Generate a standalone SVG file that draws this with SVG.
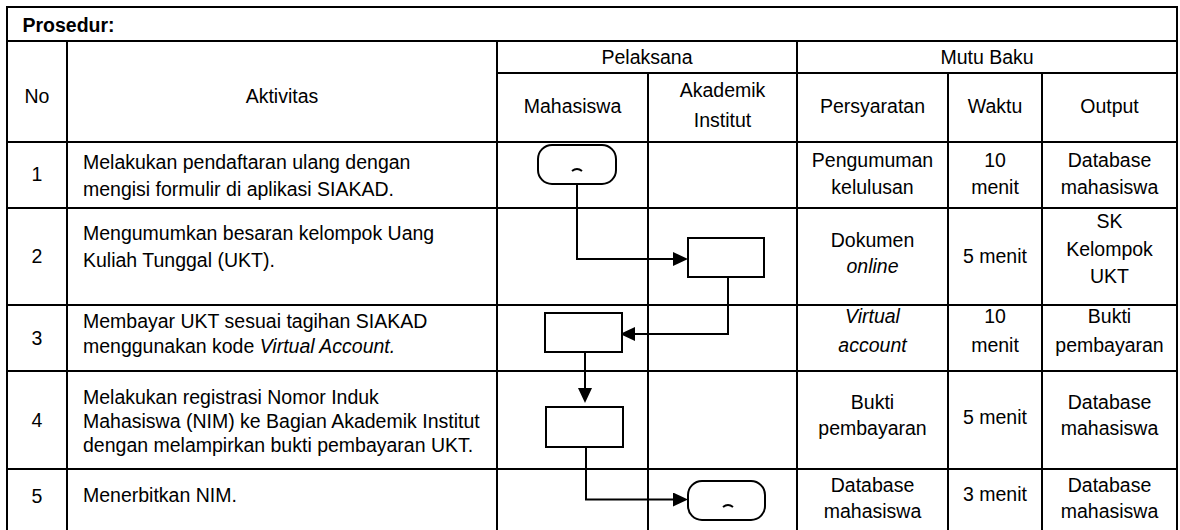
<svg xmlns="http://www.w3.org/2000/svg" width="1180" height="530" viewBox="0 0 1180 530">
  <style>
    text { font-family: "Liberation Sans", Arial, sans-serif; font-size: 19.5px; fill: #000; }
    .c { text-anchor: middle; }
    .b { font-weight: bold; }
    .i { font-style: italic; }
    .grid line { stroke: #000; stroke-width: 2; }
    .shape { fill: #fff; stroke: #000; stroke-width: 2; }
    .mark { fill: none; stroke: #000; stroke-width: 2; }
    .flow { fill: none; stroke: #000; stroke-width: 2; marker-end: url(#arrow); }
  </style>
  <defs>
    <marker id="arrow" markerUnits="userSpaceOnUse" viewBox="0 0 15 14" markerWidth="15" markerHeight="14" refX="0" refY="7" orient="auto">
      <path d="M0,0 L15,7 L0,14 z" fill="#000"/>
    </marker>
  </defs>
  <rect x="0" y="0" width="1180" height="530" fill="#fff"/>

  <!-- table grid -->
  <g class="grid">
    <line x1="6" y1="7" x2="1178" y2="7"/>
    <line x1="7" y1="7" x2="7" y2="530"/>
    <line x1="1177" y1="7" x2="1177" y2="530"/>
    <line x1="7" y1="41" x2="1177" y2="41"/>
    <line x1="497" y1="73" x2="1177" y2="73"/>
    <line x1="7" y1="142" x2="1177" y2="142"/>
    <line x1="7" y1="208" x2="1177" y2="208"/>
    <line x1="7" y1="305" x2="1177" y2="305"/>
    <line x1="7" y1="371" x2="1177" y2="371"/>
    <line x1="7" y1="469" x2="1177" y2="469"/>
    <line x1="67" y1="41" x2="67" y2="530"/>
    <line x1="497" y1="41" x2="497" y2="530"/>
    <line x1="797" y1="41" x2="797" y2="530"/>
    <line x1="648" y1="73" x2="648" y2="530"/>
    <line x1="948" y1="73" x2="948" y2="530"/>
    <line x1="1042" y1="73" x2="1042" y2="530"/>
  </g>

  <!-- headers -->
  <g id="header">
    <text class="b" x="22.5" y="31.5">Prosedur:</text>
    <text class="c" x="37" y="103">No</text>
    <text class="c" x="282" y="103">Aktivitas</text>
    <text class="c" x="647" y="64">Pelaksana</text>
    <text class="c" x="987" y="64">Mutu Baku</text>
    <text class="c" x="572.5" y="113">Mahasiswa</text>
    <text class="c" x="722.5" y="97">Akademik</text>
    <text class="c" x="722.5" y="127">Institut</text>
    <text class="c" x="872.5" y="113">Persyaratan</text>
    <text class="c" x="995" y="113">Waktu</text>
    <text class="c" x="1109.5" y="113">Output</text>
  </g>

  <!-- row 1 -->
  <g id="row1">
    <text class="c" x="37" y="181">1</text>
    <text x="83" y="169">Melakukan pendaftaran ulang dengan</text>
    <text x="83" y="196">mengisi formulir di aplikasi SIAKAD.</text>
    <text class="c" x="872.5" y="167">Pengumuman</text>
    <text class="c" x="872.5" y="194">kelulusan</text>
    <text class="c" x="995" y="167">10</text>
    <text class="c" x="995" y="194">menit</text>
    <text class="c" x="1109.5" y="167">Database</text>
    <text class="c" x="1109.5" y="194">mahasiswa</text>
  </g>

  <!-- row 2 -->
  <g id="row2">
    <text class="c" x="37" y="263">2</text>
    <text x="83" y="240">Mengumumkan besaran kelompok Uang</text>
    <text x="83" y="267">Kuliah Tunggal (UKT).</text>
    <text class="c" x="872.5" y="247">Dokumen</text>
    <text class="c i" x="872.5" y="273">online</text>
    <text class="c" x="995" y="263">5 menit</text>
    <text class="c" x="1109.5" y="228">SK</text>
    <text class="c" x="1109.5" y="255.5">Kelompok</text>
    <text class="c" x="1109.5" y="283">UKT</text>
  </g>

  <!-- row 3 -->
  <g id="row3">
    <text class="c" x="37" y="345">3</text>
    <text x="83" y="328">Membayar UKT sesuai tagihan SIAKAD</text>
    <text x="83" y="353">menggunakan kode <tspan class="i">Virtual Account.</tspan></text>
    <text class="c i" x="872.5" y="323">Virtual</text>
    <text class="c i" x="872.5" y="352">account</text>
    <text class="c" x="995" y="323">10</text>
    <text class="c" x="995" y="352">menit</text>
    <text class="c" x="1109.5" y="323">Bukti</text>
    <text class="c" x="1109.5" y="352">pembayaran</text>
  </g>

  <!-- row 4 -->
  <g id="row4">
    <text class="c" x="37" y="427">4</text>
    <text x="83" y="404">Melakukan registrasi Nomor Induk</text>
    <text x="83" y="428">Mahasiswa (NIM) ke Bagian Akademik Institut</text>
    <text x="83" y="452">dengan melampirkan bukti pembayaran UKT.</text>
    <text class="c" x="872.5" y="409">Bukti</text>
    <text class="c" x="872.5" y="435">pembayaran</text>
    <text class="c" x="995" y="424">5 menit</text>
    <text class="c" x="1109.5" y="409">Database</text>
    <text class="c" x="1109.5" y="435">mahasiswa</text>
  </g>

  <!-- row 5 -->
  <g id="row5">
    <text class="c" x="37" y="503">5</text>
    <text x="83" y="502">Menerbitkan NIM.</text>
    <text class="c" x="872.5" y="492">Database</text>
    <text class="c" x="872.5" y="518">mahasiswa</text>
    <text class="c" x="995" y="501">3 menit</text>
    <text class="c" x="1109.5" y="492">Database</text>
    <text class="c" x="1109.5" y="518">mahasiswa</text>
  </g>

  <!-- flow connectors -->
  <g id="connectors">
    <path class="flow" d="M577 184 V259 H673"/>
    <path class="flow" d="M728 277 V334 H635"/>
    <path class="flow" d="M585 352 V388"/>
    <path class="flow" d="M586 447 V499.5 H673"/>
  </g>

  <!-- flow nodes -->
  <g id="start">
    <rect class="shape" x="538" y="145" width="78" height="39" rx="14" ry="14"/>
    <path class="mark" d="M572 171 Q577 167 582 171"/>
  </g>
  <g id="step2">
    <rect class="shape" x="688" y="238" width="76" height="39"/>
  </g>
  <g id="step3">
    <rect class="shape" x="545" y="313" width="77" height="39"/>
  </g>
  <g id="step4">
    <rect class="shape" x="546" y="407" width="77" height="40"/>
  </g>
  <g id="end">
    <rect class="shape" x="688" y="481" width="77" height="39" rx="14" ry="14"/>
    <path class="mark" d="M723 507 Q728 503 733 507"/>
  </g>
</svg>
